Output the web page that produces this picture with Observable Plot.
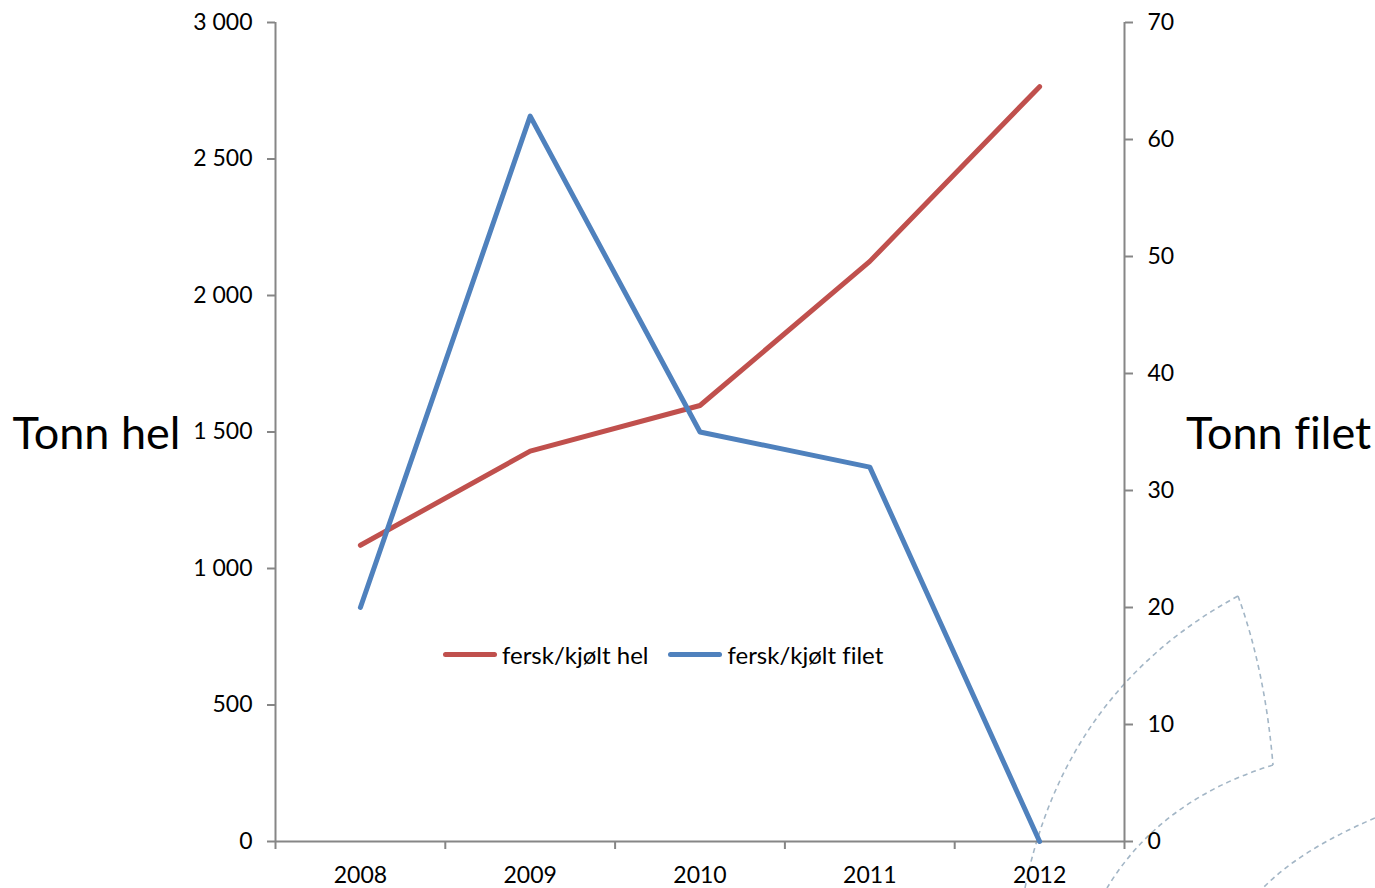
<!DOCTYPE html>
<html>
<head>
<meta charset="utf-8">
<script src="https://cdn.jsdelivr.net/npm/d3@7"></script>
<script src="https://cdn.jsdelivr.net/npm/@observablehq/plot@0.6"></script>
<style>
  body { margin: 0; background: #fff; font-family: Lato, sans-serif; font-variant-ligatures: none; }
  #wrap { position: relative; width: 1375px; height: 888px; }
  #wrap > svg { position: absolute; left: 0; top: 0; }
  #wrap svg text { font-variant-ligatures: none; }
  #deco { pointer-events: none; }
  #legend { position: absolute; left: 443px; top: 640px; display: flex; align-items: center; font-size: 24px; color: #000; white-space: nowrap; font-variant-ligatures: none; }
  .item { display: flex; align-items: center; margin-right: 20px; }
  .sw { width: 54px; height: 5px; border-radius: 2.5px; margin-right: 5px; }
</style>
</head>
<body>
<div id="wrap">
  <svg id="deco" width="1375" height="888" fill="none" stroke="#A3B6C6" stroke-width="1.6" stroke-dasharray="5 4">
    <path d="M1025,888 Q1065,690 1238,596"/>
    <path d="M1238,596 Q1265,670 1273,765"/>
    <path d="M1273,765 Q1160,800 1107,888"/>
    <path d="M1375,818 Q1300,850 1263,888"/>
  </svg>
</div>
<script>
const years = [2008, 2009, 2010, 2011, 2012];
const hel = [1085, 1430, 1597, 2125, 2765];      // left axis, Tonn hel
const filet = [20, 62, 35, 32, 0];               // right axis, Tonn filet
const leftTicks = [0, 500, 1000, 1500, 2000, 2500, 3000];
const rightTicks = [0, 10, 20, 30, 40, 50, 60, 70];
const seriesNames = ["fersk/kjølt hel", "fersk/kjølt filet"];
const colors = ["#C0504D", "#4F81BD"];

const leftMax = 3000, rightMax = 70;
const k = leftMax / rightMax;
const boundaries = [...years.map(y => y - 0.5), years[years.length - 1] + 0.5];

const helData = years.map((y, i) => ({year: y, v: hel[i]}));
const filetData = years.map((y, i) => ({year: y, v: filet[i] * k}));

const fmt = d => d3.format(",")(d).replace(/,/g, " ");
const gray = "#868686";

const chart = Plot.plot({
  width: 1375,
  height: 888,
  marginLeft: 275,
  marginRight: 251,
  marginTop: 22,
  marginBottom: 47,
  style: {fontFamily: "Lato, sans-serif", fontSize: "23px", color: "#000", background: "transparent"},
  x: {type: "linear", domain: [boundaries[0], boundaries[boundaries.length - 1]]},
  y: {domain: [0, leftMax]},
  marks: [
    Plot.ruleX([boundaries[0], boundaries[boundaries.length - 1]], {stroke: gray, strokeWidth: 2}),
    Plot.ruleY([0], {stroke: gray, strokeWidth: 2}),
    Plot.axisY({ticks: leftTicks, tickFormat: fmt, tickSize: 8, tickPadding: 15, stroke: gray, strokeWidth: 2, label: null, fill: "#000"}),
    Plot.axisY({anchor: "right", ticks: rightTicks.map(t => t * k), tickFormat: d => String(Math.round(d / k)), tickSize: 8, tickPadding: 15, stroke: gray, strokeWidth: 2, label: null}),
    Plot.axisX({ticks: boundaries, tickFormat: () => "", tickSize: 8, stroke: gray, strokeWidth: 2, label: null}),
    Plot.axisX({ticks: years, tickFormat: d => String(d), tickSize: 0, tickPadding: 25, label: null}),
    Plot.text(["Tonn hel"], {frameAnchor: "left", dx: -179, dy: 3, textAnchor: "middle", fontSize: 45, fill: "#000"}),
    Plot.text(["Tonn filet"], {frameAnchor: "right", dx: 154, dy: 3, textAnchor: "middle", fontSize: 45, fill: "#000"}),
    Plot.line(helData, {x: "year", y: "v", stroke: colors[0], strokeWidth: 5}),
    Plot.line(filetData, {x: "year", y: "v", stroke: colors[1], strokeWidth: 5})
  ]
});
document.getElementById("wrap").appendChild(chart);

const legend = document.createElement("div");
legend.id = "legend";
seriesNames.forEach((n, i) => {
  const it = document.createElement("div");
  it.className = "item";
  it.innerHTML = `<span class="sw" style="background:${colors[i]}"></span><span>${n}</span>`;
  legend.appendChild(it);
});
document.getElementById("wrap").appendChild(legend);
</script>
</body>
</html>
